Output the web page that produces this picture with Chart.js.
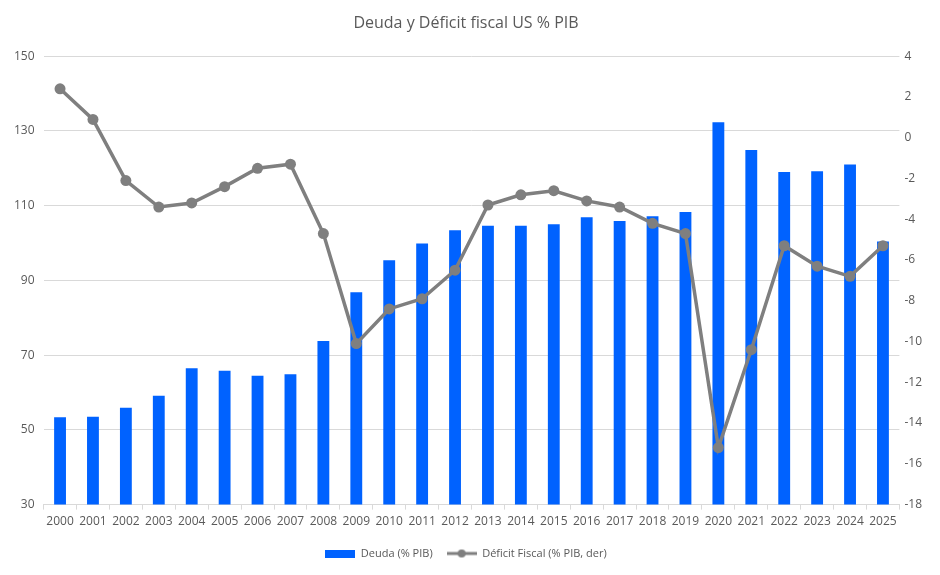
<!DOCTYPE html>
<html>
<head>
<meta charset="utf-8">
<script src="https://cdn.jsdelivr.net/npm/chart.js@4"></script>
<style>
  html, body { margin: 0; padding: 0; background: #fff; }
  #wrap { width: 940px; height: 575px; }
</style>
</head>
<body>
<div id="wrap"><canvas id="chart" width="940" height="575"></canvas></div>
<script>
// Data
const years = ['2000','2001','2002','2003','2004','2005','2006','2007','2008','2009','2010','2011','2012',
               '2013','2014','2015','2016','2017','2018','2019','2020','2021','2022','2023','2024','2025'];
const deuda = [53.4, 53.5, 55.9, 59.1, 66.5, 65.8, 64.5, 64.9, 73.8, 86.8, 95.4, 99.9, 103.4,
               104.6, 104.6, 105.0, 106.9, 105.9, 107.2, 108.3, 132.3, 124.9, 119.0, 119.2, 121.0, 100.4];
const deficit = [2.4, 0.9, -2.1, -3.4, -3.2, -2.4, -1.5, -1.3, -4.7, -10.1, -8.4, -7.9, -6.5,
                 -3.3, -2.8, -2.6, -3.1, -3.4, -4.2, -4.7, -15.2, -10.4, -5.3, -6.3, -6.8, -5.3];

const BLUE = '#0062FF';
const GREY = '#7F7F7F';
const TEXT = '#595959';
const GRID = '#D9D9D9';
const FONT = "'Open Sans', 'Noto Sans', sans-serif";

// legend markers
function barMarker() {
    const c = document.createElement('canvas');
    c.width = 30; c.height = 8;
    const g = c.getContext('2d');
    g.fillStyle = BLUE;
    g.fillRect(0, 0, 30, 8);
    return c;
}
function lineMarker() {
    const c = document.createElement('canvas');
    c.width = 30; c.height = 10;
    const g = c.getContext('2d');
    g.strokeStyle = GREY;
    g.lineWidth = 3;
    g.beginPath(); g.moveTo(0, 5); g.lineTo(30, 5); g.stroke();
    g.fillStyle = GREY;
    g.beginPath(); g.arc(15, 5, 4, 0, Math.PI * 2); g.fill();
    return c;
}
const markers = [barMarker(), lineMarker()];

const ctx = document.getElementById('chart').getContext('2d');
new Chart(ctx, {
    type: 'bar',
    data: {
        labels: years,
        datasets: [
            {
                type: 'bar',
                label: 'Deuda (% PIB)',
                data: deuda,
                backgroundColor: BLUE,
                yAxisID: 'y',
                order: 2,
                categoryPercentage: 1.0,
                barPercentage: 0.36
            },
            {
                type: 'line',
                label: 'Déficit Fiscal (% PIB, der)',
                data: deficit,
                borderColor: GREY,
                backgroundColor: GREY,
                borderWidth: 3.5,
                pointRadius: 5.5,
                pointHoverRadius: 5.5,
                pointBackgroundColor: GREY,
                pointBorderWidth: 0,
                tension: 0,
                yAxisID: 'y1',
                order: 1
            }
        ]
    },
    options: {
        responsive: false,
        animation: false,
        layout: { padding: { left: 5, right: 13, top: 4, bottom: 6 } },
        plugins: {
            title: {
                display: true,
                text: 'Deuda y Déficit fiscal US % PIB',
                color: TEXT,
                font: { family: FONT, size: 16, weight: 'normal' },
                padding: { top: 10, bottom: 23 }
            },
            legend: {
                position: 'bottom',
                labels: {
                    color: TEXT,
                    font: { family: FONT, size: 11 },
                    usePointStyle: true,
                    pointStyleWidth: 30,
                    boxHeight: 10,
                    padding: 14,
                    generateLabels: (chart) => chart.data.datasets.map((ds, i) => ({
                        text: ds.label,
                        fontColor: TEXT,
                        pointStyle: markers[i],
                        datasetIndex: i,
                        hidden: false,
                        lineWidth: 0
                    }))
                }
            },
            tooltip: { enabled: false }
        },
        scales: {
            x: {
                grid: {
                    offset: true,
                    drawOnChartArea: false,
                    drawTicks: true,
                    tickLength: 5,
                    color: GRID
                },
                border: { display: true, color: GRID, width: 1 },
                ticks: {
                    color: TEXT,
                    font: { family: FONT, size: 12 },
                    maxRotation: 0,
                    autoSkip: false,
                    padding: 5
                }
            },
            y: {
                position: 'left',
                min: 30,
                max: 150,
                ticks: {
                    stepSize: 20,
                    color: TEXT,
                    font: { family: FONT, size: 12 },
                    padding: 9
                },
                grid: { color: GRID, drawTicks: false },
                border: { display: false }
            },
            y1: {
                position: 'right',
                min: -18,
                max: 4,
                ticks: {
                    stepSize: 2,
                    color: TEXT,
                    font: { family: FONT, size: 12 },
                    padding: 5
                },
                grid: { drawOnChartArea: false, drawTicks: false },
                border: { display: false }
            }
        }
    }
});
</script>
</body>
</html>
